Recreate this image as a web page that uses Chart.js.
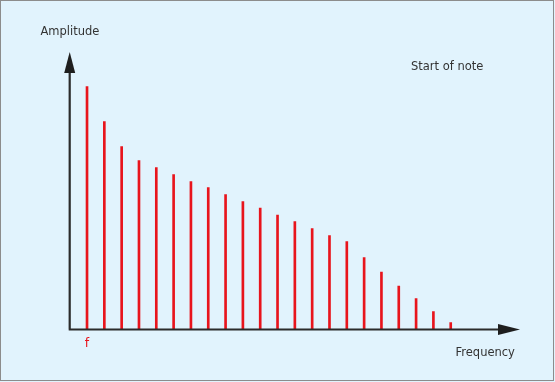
<!DOCTYPE html>
<html>
<head>
<meta charset="utf-8">
<script src="https://cdn.jsdelivr.net/npm/chart.js@4"></script>
<style>
html,body{margin:0;padding:0;background:#e1f3fd;}
#wrap{width:555px;height:382px;position:relative;}
</style>
</head>
<body>
<div id="wrap"><canvas id="c" width="555" height="382"></canvas></div>
<script>
// Harmonic numbers (multiples of fundamental f)
const harmonics = [1,2,3,4,5,6,7,8,9,10,11,12,13,14,15,16,17,18,19,20,21,22];
// Amplitudes (arbitrary units)
const amplitudes = [243,208,183,169,162,155,148,142,135,128,121.5,114.5,108,101,94,88,72,57.5,43.5,31,18,7];
const tickLabels = ['f'];
const tickValues = [1];
const xTitle = 'Frequency';
const yTitle = 'Amplitude';
const noteLabel = 'Start of note';

const data = harmonics.map((h,i)=>({x:h,y:amplitudes[i]}));

const axesPlugin = {
  id:'axesPlugin',
  beforeDraw(chart){
    const ctx = chart.ctx;
    ctx.save();
    ctx.fillStyle = '#e1f3fd';
    ctx.fillRect(0,0,chart.width,chart.height);
    ctx.strokeStyle = '#8c8c8c';
    ctx.lineWidth = 1;
    ctx.strokeRect(0.5,0.5,553,380);
    ctx.restore();
  },
  afterDatasetsDraw(chart){
    const ctx = chart.ctx;
    const xs = chart.scales.x, ys = chart.scales.y;
    const x0 = xs.getPixelForValue(0);
    const y0 = ys.getPixelForValue(0);
    const top = ys.top, right = xs.right;
    ctx.save();
    ctx.strokeStyle = '#2b2b2b';
    ctx.fillStyle = '#1e1e1e';
    ctx.lineWidth = 2.2;
    ctx.beginPath();
    ctx.moveTo(x0, y0);
    ctx.lineTo(x0, top + 18);
    ctx.moveTo(x0 - 1, y0);
    ctx.lineTo(right - 18, y0);
    ctx.stroke();
    // y arrow
    ctx.beginPath();
    ctx.moveTo(x0, top);
    ctx.lineTo(x0 - 5.5, top + 21);
    ctx.lineTo(x0 + 5.5, top + 21);
    ctx.closePath();
    ctx.fill();
    // x arrow
    ctx.beginPath();
    ctx.moveTo(right, y0);
    ctx.lineTo(right - 22, y0 - 5.5);
    ctx.lineTo(right - 22, y0 + 5.5);
    ctx.closePath();
    ctx.fill();
    // texts
    ctx.font = '11.5px "DejaVu Sans", Verdana, sans-serif';
    ctx.fillStyle = '#333333';
    ctx.textBaseline = 'alphabetic';
    ctx.textAlign = 'left';
    ctx.fillText(yTitle, 40.5, 35);
    ctx.fillText(xTitle, 455.5, 356);
    ctx.fillText(noteLabel, 411, 70);
    ctx.fillStyle = '#e8141c';
    ctx.textAlign = 'center';
    ctx.font = '12.5px "DejaVu Sans", Verdana, sans-serif';
    tickValues.forEach((v,i)=>{
      ctx.fillText(tickLabels[i], xs.getPixelForValue(v), 347);
    });
    ctx.restore();
  }
};

new Chart(document.getElementById('c'), {
  type:'bar',
  data:{
    datasets:[{
      data:data,
      backgroundColor:'#e8141c',
      borderWidth:0,
      barThickness:2
    }]
  },
  options:{
    responsive:false,
    animation:false,
    events:[],
    layout:{padding:{left:69.7,right:35,top:52,bottom:52.5}},
    plugins:{legend:{display:false},tooltip:{enabled:false}},
    scales:{
      x:{type:'linear',min:0,max:26,display:false,offset:false},
      y:{type:'linear',min:0,max:277.5,display:false}
    }
  },
  plugins:[axesPlugin]
});
</script>
</body>
</html>
